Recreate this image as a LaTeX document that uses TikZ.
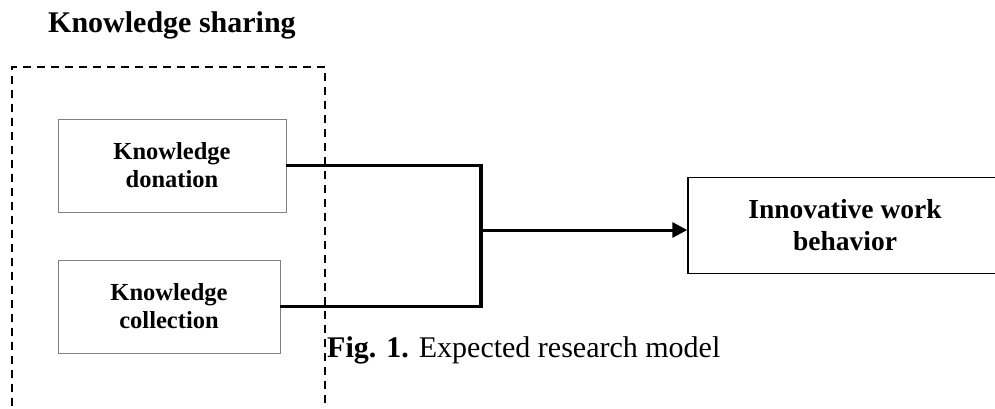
\documentclass[tikz,border=0pt]{standalone}
\usepackage{fontspec}
\setmainfont{Liberation Serif}
\usetikzlibrary{arrows.meta}
\begin{document}
\begin{tikzpicture}[x=1pt,y=-1pt,
  smallbox/.style={draw=black!50,line width=0.9pt,minimum height=93pt,inner sep=0pt,align=center,
    font=\fontsize{24.5}{28}\selectfont\bfseries},
  bigbox/.style={draw=black,line width=1.4pt,minimum height=96pt,minimum width=314pt,inner sep=0pt,align=center,
    font=\fontsize{27.5}{32}\selectfont\bfseries},
  conn/.style={line width=3.4pt,line join=miter},
  arr/.style={line width=3pt,-{Triangle[length=15pt,width=15pt]}},
  frame/.style={line width=1.6pt,dash pattern=on 8pt off 6pt}]
\useasboundingbox (0,0) rectangle (995,408);
\fill[white] (0,0) rectangle (995,408);
\node[anchor=base west,font=\fontsize{30}{36}\selectfont\bfseries,inner sep=0pt] (title) at (48,32) {Knowledge sharing};
\draw[frame] (12,420) -- (12,67) -- (325,67) -- (325,420);
\node[smallbox,minimum width=228pt] (don) at (172,165.5) {Knowledge\\donation};
\node[smallbox,minimum width=222pt] (col) at (169,306.5) {Knowledge\\collection};
\node[bigbox] (inn) at (845,225.5) {Innovative work\\behavior};
\coordinate (j) at (481,230);
\draw[conn] (don.east) -| (j) |- (col.east);
\draw[arr] (j) -- (j -| inn.west);
\node[anchor=base west,inner sep=0pt,font=\fontsize{30}{36}\selectfont] (cap) at (327,357) {\textbf{Fig. 1.} Expected research model};
\end{tikzpicture}
\end{document}
